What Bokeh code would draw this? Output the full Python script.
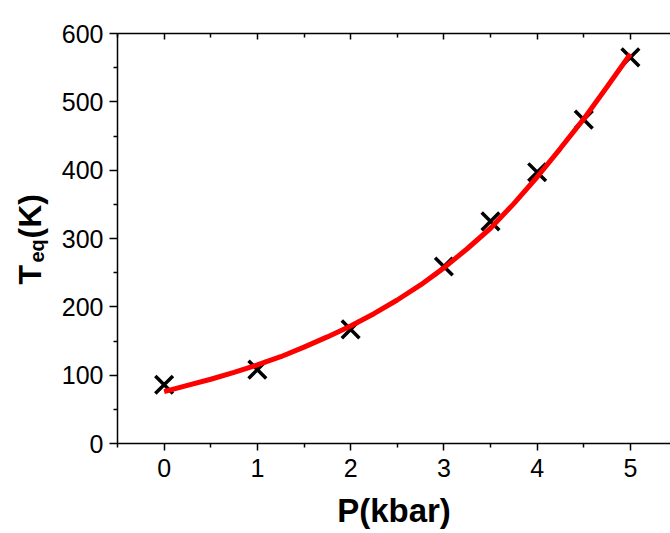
import math
from bokeh.plotting import figure
from bokeh.layouts import row
from bokeh.models import LinearAxis, FixedTicker, Range1d
from bokeh.core.properties import value
from bokeh.embed import file_html
from bokeh.resources import INLINE

# measured points
p_kbar = [0, 1, 2, 3, 3.5, 4, 4.5, 5]
t_eq = [86, 108, 167, 259, 325, 397, 474, 565]

# fitted curve
fit_p = [0, 0.25, 0.5, 0.75, 1, 1.25, 1.5, 1.75, 2, 2.25, 2.5, 2.75, 3,
         3.25, 3.5, 3.75, 4, 4.25, 4.5, 4.75, 5]
fit_t = [76, 85, 94, 104, 115, 127, 141, 156, 172, 190, 210, 232, 257,
         285, 315, 351, 390, 432, 475, 522, 570]

x_ticks = [0, 1, 2, 3, 4, 5]
x_minor = [-0.5, 0.5, 1.5, 2.5, 3.5, 4.5, 5.5]
y_ticks = [0, 100, 200, 300, 400, 500, 600]
y_minor = [50, 150, 250, 350, 450, 550]

# y-axis title pieces
ylab_parts = ["T", "eq", "(K)"]

FONT = "Liberation Sans"
H = 533
LW = 54
FRAME_TOP = 33
FRAME_BOTTOM = 443

# --- narrow figure holding the rotated y-axis title ---
# (its frame is aligned with the main plot's frame by the row layout)
lab = figure(width=LW, height=H, output_backend="svg", toolbar_location=None,
             x_range=Range1d(0, LW), y_range=Range1d(H - FRAME_BOTTOM, H - FRAME_TOP),
             x_axis_type=None, y_axis_type=None,
             min_border_left=0, min_border_right=0,
             min_border_top=FRAME_TOP, min_border_bottom=H - FRAME_BOTTOM)
lab.outline_line_color = None
lab.grid.visible = False
lab.background_fill_color = "white"
lab.border_fill_color = "white"
pos = [(29, 284, "32px"), (36, 262, "20px"), (29, 238, "32px")]
for txt, (sx, sy, fs) in zip(ylab_parts, pos):
    lab.text(x=[sx], y=[H - sy], text=[txt], angle=math.pi / 2,
             text_align="left", text_baseline="alphabetic",
             text_font=value(FONT), text_font_style="bold",
             text_font_size=fs, text_color="black")

# --- main plot ---
p = figure(width=670 - LW, height=H, output_backend="svg", toolbar_location=None,
           x_range=Range1d(-0.5, 5.43), y_range=Range1d(0, 600),
           x_axis_type=None, y_axis_type=None,
           min_border_left=117 - LW, min_border_right=0, min_border_top=FRAME_TOP,
           min_border_bottom=H - FRAME_BOTTOM)
p.outline_line_color = None
p.grid.visible = False
p.background_fill_color = "white"
p.border_fill_color = "white"

xt = FixedTicker(ticks=x_ticks, minor_ticks=x_minor)
yt = FixedTicker(ticks=y_ticks, minor_ticks=y_minor)

def style(ax):
    ax.axis_line_color = "black"
    ax.axis_line_width = 1.5
    ax.major_tick_line_color = "black"
    ax.minor_tick_line_color = "black"
    ax.major_tick_line_width = 1.5
    ax.minor_tick_line_width = 1.5
    ax.major_label_text_font = FONT
    ax.major_label_text_font_size = "25px"
    ax.major_label_text_color = "black"
    ax.axis_label_text_font = FONT
    ax.axis_label_text_font_style = "bold"
    ax.axis_label_text_color = "black"

xb = LinearAxis(ticker=xt, axis_label="P(kbar)")
style(xb)
xb.major_tick_out = 7
xb.major_tick_in = 0
xb.minor_tick_out = 4
xb.minor_tick_in = 0
xb.major_label_standoff = 8
xb.axis_label_text_font_size = "33px"
xb.axis_label_standoff = 12
p.add_layout(xb, "below")

yl = LinearAxis(ticker=yt)
style(yl)
yl.major_tick_out = 8
yl.major_tick_in = 0
yl.minor_tick_out = 4
yl.minor_tick_in = 0
yl.major_label_standoff = 6
p.add_layout(yl, "left")

xa = LinearAxis(ticker=xt)
style(xa)
xa.major_tick_out = 0
xa.major_tick_in = 6
xa.minor_tick_out = 0
xa.minor_tick_in = 4
xa.major_label_text_color = None
xa.major_label_text_font_size = "1px"
xa.major_label_standoff = 0
p.add_layout(xa, "above")

p.scatter(p_kbar, t_eq, marker="x", size=25, line_color="black", line_width=3.5)
p.line(fit_p, fit_t, line_color="#ff0000", line_width=5)

layout = row(lab, p, spacing=0)
open("out.html", "w").write(file_html(layout, INLINE))
